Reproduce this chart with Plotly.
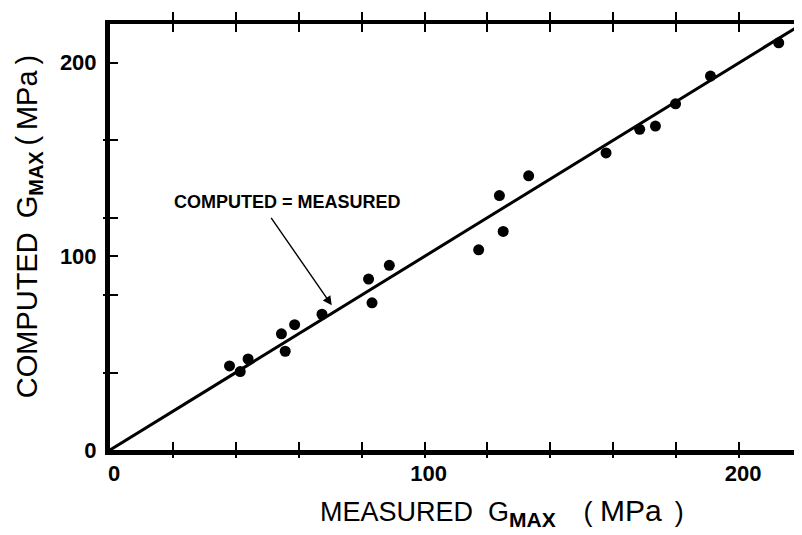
import plotly.graph_objects as go

# ---- data ----
measured = [38.0, 41.4, 43.9, 54.5, 55.7, 58.7, 67.4, 82.2, 83.3, 88.8,
            117.2, 123.8, 125.0, 133.1, 157.7, 168.4, 173.4, 179.8, 190.9, 212.6]
computed = [43.4, 40.5, 47.0, 60.0, 51.0, 64.7, 70.1, 88.3, 76.0, 95.4,
            103.4, 131.4, 112.9, 141.6, 153.4, 165.6, 167.3, 178.8, 193.1, 210.3]

axis_max = 220
equality_line = [0, axis_max]

x_tick_vals = [0, 20, 40, 60, 80, 100, 120, 140, 160, 180, 200]
x_tick_text = ["0", "", "", "", "", "100", "", "", "", "", "200"]
x_minor_ticks = [20, 40, 60, 80, 100, 120, 140, 160, 180, 200]

y_tick_vals = [0, 40, 80, 100, 120, 160, 200]
y_tick_text = ["0", "", "", "100", "", "", "200"]
y_minor_ticks = [40, 80, 120, 160, 200]

label_text = "<b>COMPUTED = MEASURED</b>"
label_pos = (56.3, 128.3)
arrow_tail = (50.9, 120.7)
arrow_tip = (70.5, 74.7)

sub_x = '<sub><span style="font-size:21px;font-weight:bold">MAX</span></sub>'
sub_y = '<sub><span style="font-size:20px;font-weight:bold">MAX</span></sub>'
x_title = ("MEASURED\u00a0\u00a0G" + sub_x + "\u00a0\u00a0\u00a0\u2009(\u00a0"
           '<span style="font-size:30px">MPa</span>\u00a0\u2009)')
y_title = "COMPUTED\u00a0\u2009G" + sub_y + "\u2009(\u2009MPa\u2009)"

FONT = "Liberation Sans, Arial, sans-serif"
W, H = 802, 535
OFF = 8  # page body margin
# target plot-area edges in window pixels
PL, PR, PT, PB = 110, 802, 18, 450
ML, MR, MT, MB = PL - OFF, W - (PR - OFF), PT - OFF, H - (PB - OFF)

fig = go.Figure()
fig.add_trace(go.Scatter(x=equality_line, y=equality_line, mode="lines",
                         line=dict(color="black", width=3), showlegend=False,
                         hoverinfo="skip"))
fig.add_trace(go.Scatter(x=measured, y=computed, mode="markers",
                         marker=dict(color="black", size=11, line=dict(width=0)),
                         showlegend=False))
# empty traces so the overlay axes exist
for xa, ya in [("x2", "y"), ("x3", "y"), ("x4", "y"), ("x", "y2"), ("x", "y3")]:
    fig.add_trace(go.Scatter(x=[None], y=[None], xaxis=xa, yaxis=ya,
                             showlegend=False, hoverinfo="skip"))

rng = [0, axis_max]
common = dict(range=rng, showgrid=False, zeroline=False, fixedrange=True,
              tickcolor="black", tickwidth=2)
tick_font = dict(size=22, family=FONT, color="black", weight="bold")

fig.update_layout(
    width=W, height=H,
    margin=dict(l=ML, r=MR, t=MT, b=MB),
    paper_bgcolor="white", plot_bgcolor="white",
    font=dict(family=FONT, color="black"),
    xaxis=dict(**common, tickvals=x_tick_vals, ticktext=x_tick_text,
               ticks="inside", ticklen=8, showline=True, linewidth=5,
               linecolor="black", tickfont=tick_font,
               ticklabelstandoff=0, ticklabelshift=4),
    xaxis2=dict(**common, overlaying="x", anchor="y", side="bottom",
                tickvals=x_minor_ticks, ticks="outside", ticklen=7,
                showticklabels=False, showline=False),
    xaxis3=dict(**common, overlaying="x", anchor="y", side="top",
                tickvals=x_minor_ticks, ticks="outside", ticklen=8,
                showticklabels=False, showline=True, linewidth=4,
                linecolor="black"),
    xaxis4=dict(**common, overlaying="x", anchor="y", side="top",
                tickvals=x_minor_ticks, ticks="inside", ticklen=8,
                showticklabels=False, showline=False),
    yaxis=dict(**common, tickvals=y_tick_vals, ticktext=y_tick_text,
               ticks="inside", ticklen=8, showline=True, linewidth=5,
               linecolor="black", tickfont=tick_font,
               ticklabelstandoff=4),
    yaxis2=dict(**common, overlaying="y", anchor="x", side="left",
                tickvals=y_minor_ticks[:-1], ticks="outside", ticklen=6,
                showticklabels=False, showline=False),
    yaxis3=dict(**common, overlaying="y", anchor="x", side="right",
                tickvals=y_minor_ticks, ticks="inside", ticklen=7,
                showticklabels=False, showline=False),
)

pw = PR - PL
ph = PB - PT

def px_x(px):
    return (px - PL) / pw

def px_y(py):
    return (PB - py) / ph

fig.add_annotation(x=label_pos[0], y=label_pos[1], xref="x", yref="y",
                   text=label_text, showarrow=False,
                   font=dict(size=18, family=FONT, color="black"))
fig.add_annotation(x=arrow_tip[0], y=arrow_tip[1], xref="x", yref="y",
                   ax=arrow_tail[0], ay=arrow_tail[1], axref="x", ayref="y",
                   text="", showarrow=True, arrowhead=2, arrowsize=1.3,
                   arrowwidth=1.4, arrowcolor="black")

fig.add_annotation(x=px_x(318), y=px_y(513),
                   xref="paper", yref="paper", xanchor="left", yanchor="middle",
                   text=x_title, showarrow=False,
                   font=dict(size=27, family=FONT, color="black"))
fig.add_annotation(x=px_x(29), y=px_y(224),
                   xref="paper", yref="paper", xanchor="center", yanchor="middle",
                   text=y_title, textangle=-90, showarrow=False,
                   font=dict(size=29, family=FONT, color="black"))

fig.write_html("out.html")
